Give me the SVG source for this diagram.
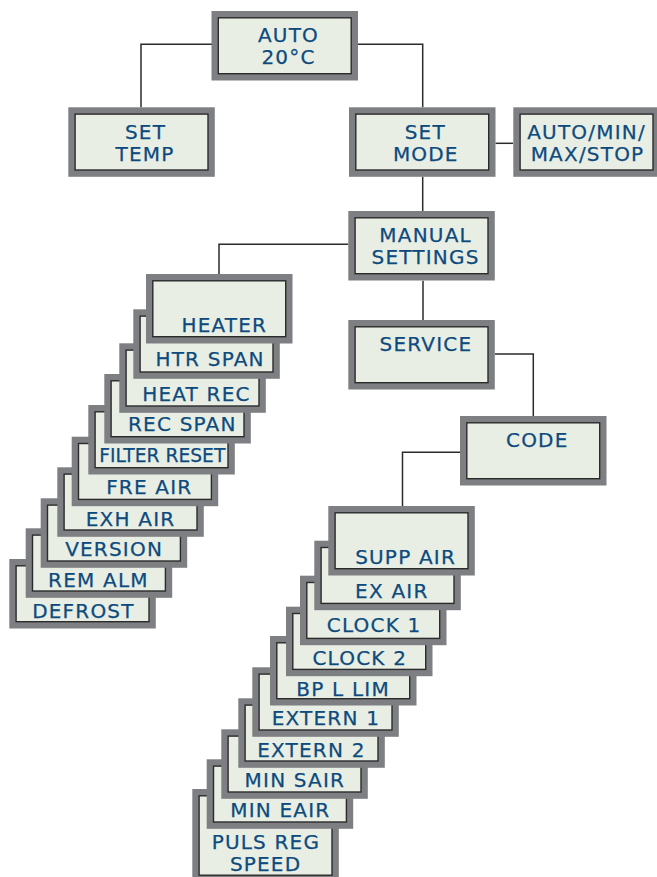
<svg xmlns="http://www.w3.org/2000/svg" xmlns:xlink="http://www.w3.org/1999/xlink" width="657" height="877" viewBox="0 0 657 877">
<style>
.o{fill:#7e7f83}
.i{fill:#e8eee3;stroke:#2b2b2b;stroke-width:1.4}
.t{font-family:"DejaVu Sans","Verdana",sans-serif;font-size:20px;fill:#0d4a7d;stroke:#0d4a7d;stroke-width:0.25;letter-spacing:1.2px;text-anchor:middle}
.c{fill:none;stroke:#2b2b2b;stroke-width:1.5}
</style>
<defs>
<g id="box"><rect class="o" x="0" y="0" width="146.5" height="69.5"/><rect class="i" x="6.8" y="6.8" width="132.9" height="55.9"/></g>
<g id="tall"><rect class="o" x="0" y="0" width="146.5" height="93"/><rect class="i" x="6.8" y="6.8" width="132.9" height="79.4"/></g>
</defs>
<rect width="657" height="877" fill="#ffffff"/>
<g id="connectors">
<path class="c" d="M212,44.3 H141 V107.3"/>
<path class="c" d="M357.5,44.3 H422.7 V107.3"/>
<path class="c" d="M495.5,143.3 H513"/>
<path class="c" d="M422.7,176.7 V211"/>
<path class="c" d="M348.3,244.3 H219 V274"/>
<path class="c" d="M423,280.7 V320"/>
<path class="c" d="M495,354 H533.3 V416"/>
<path class="c" d="M460,452.3 H402.5 V506"/>
</g>
<g id="auto"><use xlink:href="#box" x="211.5" y="11"/><text class="t" x="288.5" y="42.3">AUTO</text><text class="t" x="288.5" y="64.3">20°C</text></g>
<g id="set-temp"><use xlink:href="#box" x="68.3" y="107.3"/><text class="t" x="145.5" y="139">SET</text><text class="t" x="145" y="161.3">TEMP</text></g>
<g id="set-mode"><use xlink:href="#box" x="349" y="107.3"/><text class="t" x="425.3" y="139">SET</text><text class="t" x="425.8" y="161.3">MODE</text></g>
<g id="auto-min"><use xlink:href="#box" x="513.3" y="107.3"/><text class="t" x="586.5" y="139">AUTO/MIN/</text><text class="t" x="587.5" y="161.3">MAX/STOP</text></g>
<g id="manual"><use xlink:href="#box" x="348.3" y="211"/><text class="t" x="425.6" y="242.3">MANUAL</text><text class="t" x="425.6" y="264.3">SETTINGS</text></g>
<g id="service"><use xlink:href="#box" x="348.3" y="320"/><text class="t" x="425.9" y="351.3">SERVICE</text></g>
<g id="code"><use xlink:href="#box" x="460" y="416"/><text class="t" x="537.3" y="447.3">CODE</text></g>
<g id="defrost"><use xlink:href="#box" x="9.3" y="559"/><text class="t" x="83.4" y="618">DEFROST</text></g>
<g id="rem-alm"><use xlink:href="#box" x="25.7" y="528.3"/><text class="t" x="98.4" y="586.6">REM ALM</text></g>
<g id="version"><use xlink:href="#box" x="40.7" y="498.3"/><text class="t" x="114.1" y="556.3">VERSION</text></g>
<g id="exh-air"><use xlink:href="#box" x="57.3" y="467.3"/><text class="t" x="130.6" y="526">EXH AIR</text></g>
<g id="fre-air"><use xlink:href="#box" x="71.7" y="436.7"/><text class="t" x="149.3" y="494">FRE AIR</text></g>
<g id="filter-reset"><use xlink:href="#box" x="88.3" y="405"/><text class="t" x="162.3" y="462.3" style="letter-spacing:0" textLength="126" lengthAdjust="spacingAndGlyphs">FILTER RESET</text></g>
<g id="rec-span"><use xlink:href="#box" x="104.3" y="374"/><text class="t" x="182.3" y="431.3">REC SPAN</text></g>
<g id="heat-rec"><use xlink:href="#box" x="119.3" y="343.3"/><text class="t" x="196.4" y="400.6">HEAT REC</text></g>
<g id="htr-span"><use xlink:href="#box" x="133.3" y="309.3"/><text class="t" x="210.1" y="366.3">HTR SPAN</text></g>
<g id="heater"><use xlink:href="#box" x="146" y="274"/><text class="t" x="224.3" y="332.3">HEATER</text></g>
<g id="puls-reg"><use xlink:href="#tall" x="192.3" y="789"/><text class="t" x="265.9" y="848.6">PULS REG</text><text class="t" x="265.6" y="870.6">SPEED</text></g>
<g id="min-eair"><use xlink:href="#box" x="206.7" y="759.3"/><text class="t" x="280.3" y="817.3">MIN EAIR</text></g>
<g id="min-sair"><use xlink:href="#box" x="221.3" y="729.3"/><text class="t" x="294.9" y="787.3">MIN SAIR</text></g>
<g id="extern-2"><use xlink:href="#box" x="238.3" y="698.3"/><text class="t" x="311.4" y="756.6">EXTERN 2</text></g>
<g id="extern-1"><use xlink:href="#box" x="252.3" y="667.3"/><text class="t" x="325.9" y="724.6">EXTERN 1</text></g>
<g id="bp-l-lim"><use xlink:href="#box" x="270" y="636"/><text class="t" x="343.1" y="695.6">BP L LIM</text></g>
<g id="clock-2"><use xlink:href="#box" x="286" y="606.7"/><text class="t" x="359.8" y="664.6">CLOCK 2</text></g>
<g id="clock-1"><use xlink:href="#box" x="300" y="575.7"/><text class="t" x="374.1" y="632.3">CLOCK 1</text></g>
<g id="ex-air"><use xlink:href="#box" x="314.3" y="540.7"/><text class="t" x="391.8" y="598">EX AIR</text></g>
<g id="supp-air"><use xlink:href="#box" x="328.3" y="506"/><text class="t" x="405.6" y="564">SUPP AIR</text></g>
</svg>
